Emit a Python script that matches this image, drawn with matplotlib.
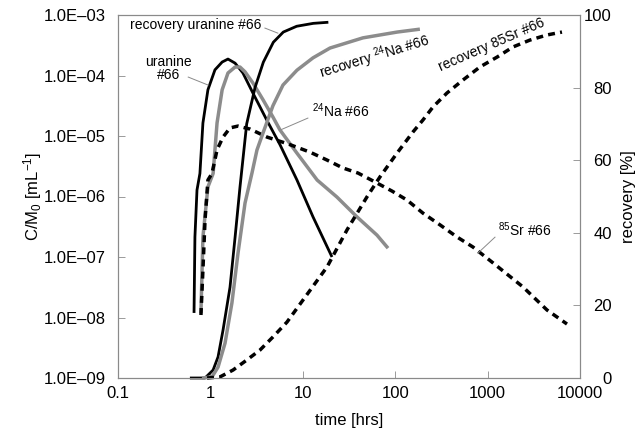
import math
import matplotlib
matplotlib.use('Agg')
import matplotlib.pyplot as plt
from matplotlib.ticker import FixedLocator, FuncFormatter, NullLocator

plt.rcParams['font.family'] = ['Liberation Sans', 'DejaVu Sans']
plt.rcParams['mathtext.fontset'] = 'custom'
plt.rcParams['mathtext.rm'] = 'Liberation Sans'
plt.rcParams['mathtext.it'] = 'Liberation Sans:italic'

# concentration curves C/M0 [1/mL] vs time [hrs]
t_uranine = [0.665, 0.68, 0.716, 0.77, 0.83, 0.94, 1.12, 1.34, 1.55, 1.85, 2.25, 2.89, 4.1, 5.66, 8.65, 12.9, 20.7]
c_uranine = [1.19e-8, 2.14e-7, 1.28e-6, 2.4e-6, 1.64e-5, 5.8e-5, 1.24e-4, 1.67e-4, 1.87e-4, 1.6e-4, 1.1e-4,
             5.1e-5, 1.8e-5, 7.2e-6, 1.87e-6, 4.6e-7, 1.0e-7]

t_na = [0.79, 0.83, 0.94, 1.07, 1.18, 1.34, 1.55, 1.85, 2.09, 2.37, 2.89, 3.7, 4.75, 5.66, 8.65, 14.3, 23.4,
        38.6, 63.5, 83.6]
c_na = [1.19e-8, 2.14e-7, 1.44e-6, 2.4e-6, 1.64e-5, 5.8e-5, 1.1e-4, 1.38e-4, 1.38e-4, 1.15e-4, 7.5e-5, 4.0e-5,
        2.06e-5, 1.26e-5, 5.2e-6, 1.87e-6, 9.8e-7, 4.6e-7, 2.3e-7, 1.4e-7]

t_sr = [0.79, 0.83, 0.875, 0.94, 1.04, 1.18, 1.37, 1.63, 1.99, 2.69, 4.1, 6.92, 12.0, 18.3, 27.2, 39.6, 60.4,
        92.3, 134, 200, 305, 467, 695, 1143, 2415, 4395, 7230]
c_sr = [1.1e-8, 6.1e-8, 4.1e-7, 1.87e-6, 2.4e-6, 5.9e-6, 9.6e-6, 1.36e-5, 1.46e-5, 1.3e-5, 9.6e-6, 7.4e-6,
        5.4e-6, 4.0e-6, 2.96e-6, 2.44e-6, 1.74e-6, 1.23e-6, 8.75e-7, 5.3e-7, 3.4e-7, 2.14e-7, 1.46e-7,
        8.0e-8, 3.2e-8, 1.33e-8, 7.8e-9]

# recovery curves [%]
t_rec_uranine = [0.60, 0.875, 1.07, 1.21, 1.37, 1.63, 1.85, 2.09, 2.47, 3.04, 3.74, 4.8, 6.15, 8.59, 13.0, 18.9]
r_uranine = [0, 0, 2.2, 5.8, 13.2, 25, 38.8, 52.6, 70, 80, 87, 92.5, 95.3, 96.9, 97.7, 98.0]

t_rec_na = [0.81, 1.04, 1.21, 1.44, 1.71, 1.99, 2.37, 2.82, 3.19, 3.71, 4.75, 6.1, 8.65, 12.9, 19.7, 44.7, 105, 185]
r_na = [0, 0.3, 3, 9.6, 20.7, 34.4, 48.2, 56.5, 62.8, 67.5, 75.0, 80.7, 84.8, 88.2, 90.9, 93.7, 95.3, 96.1]

t_rec_sr = [0.92, 1.27, 1.76, 2.49, 3.44, 4.75, 6.74, 8.88, 18.3, 30.1, 49.5, 68.4, 105, 156, 200, 257, 363, 542,
            828, 1265, 1884, 2877, 4395, 6383]
r_sr = [0, 0.3, 2.2, 5.0, 7.7, 11.3, 15.4, 19.6, 30.6, 40.8, 49.9, 55.4, 62.0, 67.8, 71.1, 74.7, 78.5, 82.1,
        85.7, 88.4, 91.2, 93.1, 94.5, 95.3]

x_ticks = [0.1, 1, 10, 100, 1000, 10000]
y_ticks = [1e-9, 1e-8, 1e-7, 1e-6, 1e-5, 1e-4, 1e-3]
r_ticks = [0, 20, 40, 60, 80, 100]


def sci_label(v, pos):
  exp = int(round(-math.log10(v)))
  return '1.0E\u2013%02d' % exp


def main():
  fig = plt.figure(figsize=(6.43, 4.32), dpi=100)
  ax = fig.add_axes([118 / 643, 54 / 432, 462 / 643, 363 / 432])
  ax2 = ax.twinx()

  black = dict(color='black', lw=2.0, solid_capstyle='butt', solid_joinstyle='round', clip_on=False)
  gray = dict(color='#8c8c8c', lw=2.5, solid_capstyle='butt', solid_joinstyle='round', clip_on=False)
  dashed = dict(color='black', lw=2.5, linestyle=(0, (2.0, 1.5)), clip_on=False)

  ax.plot(t_uranine, c_uranine, **black)
  ax.plot(t_na, c_na, **gray)
  ax.plot(t_sr, c_sr, **dashed)

  ax2.plot(t_rec_uranine, r_uranine, **black)
  ax2.plot(t_rec_na, r_na, **gray)
  ax2.plot(t_rec_sr, r_sr, **dashed)

  ax.set_xscale('log')
  ax.set_yscale('log')
  ax.set_xlim(0.1, 10000)
  ax.set_ylim(1e-9, 1e-3)
  ax2.set_ylim(0, 100)

  ax.xaxis.set_major_locator(FixedLocator(x_ticks))
  ax.xaxis.set_minor_locator(NullLocator())
  ax.xaxis.set_major_formatter(FuncFormatter(lambda v, p: ('%g' % v)))
  ax.yaxis.set_major_locator(FixedLocator(y_ticks))
  ax.yaxis.set_minor_locator(NullLocator())
  ax.yaxis.set_major_formatter(FuncFormatter(sci_label))
  ax2.yaxis.set_major_locator(FixedLocator(r_ticks))

  for a in (ax, ax2):
    for s in a.spines.values():
      s.set_color('#8a8a8a')
      s.set_linewidth(0.8)
  ax.tick_params(axis='both', direction='in', length=5, width=0.6, color='#8a8a8a', labelsize=12)
  ax.tick_params(axis='x', pad=6)
  ax.tick_params(axis='y', pad=9)
  ax2.tick_params(axis='y', direction='in', length=5, width=0.6, color='#8a8a8a', labelsize=12, pad=23)
  for lab in ax2.get_yticklabels():
    lab.set_ha('right')

  ax.set_xlabel('time [hrs]', fontsize=12)
  ax.set_ylabel(r'C/M$_\mathregular{0}$ [mL$^\mathregular{-1}$]', fontsize=12)
  ax2.set_ylabel('recovery [%]', fontsize=12)
  ax.xaxis.label.set_va('center')
  ax.yaxis.label.set_va('center')
  ax2.yaxis.label.set_va('center')
  ax.xaxis.set_label_coords(0.5, -0.116)
  ax.yaxis.set_label_coords(-0.184, 0.5)
  ax2.yaxis.set_label_coords(1.106, 0.5)

  # annotations
  tr = ax.transAxes
  fs = 10
  leader = dict(color='#8a8a8a', lw=0.7, transform=tr, clip_on=False)
  ax.text(0.026, 0.972, 'recovery uranine #66', transform=tr, fontsize=fs, ha='left', va='center')
  ax.plot([0.318, 0.346], [0.964, 0.950], **leader)
  ax.text(0.110, 0.853, 'uranine\n#66', transform=tr, fontsize=fs, ha='center', va='center',
          linespacing=0.9)
  ax.plot([0.152, 0.195], [0.829, 0.807], **leader)
  ax.text(0.42, 0.735, r'$\mathregular{^{24}}$Na #66', transform=tr, fontsize=fs, ha='left', va='center')
  ax.plot([0.411, 0.351], [0.716, 0.683], **leader)
  ax.text(0.556, 0.884, r'recovery $\mathregular{^{24}}$Na #66', transform=tr, fontsize=fs, ha='center',
          va='center', rotation=17, rotation_mode='anchor')
  ax.text(0.808, 0.918, 'recovery 85Sr #66', transform=tr, fontsize=fs, ha='center', va='center',
          rotation=23.5, rotation_mode='anchor')
  ax.text(0.822, 0.408, r'$\mathregular{^{85}}$Sr #66', transform=tr, fontsize=fs, ha='left', va='center')
  ax.plot([0.816, 0.779], [0.388, 0.344], **leader)

  fig.savefig('out.png', dpi=100, facecolor='w')
  plt.close('all')


if __name__ == '__main__':
  main()
